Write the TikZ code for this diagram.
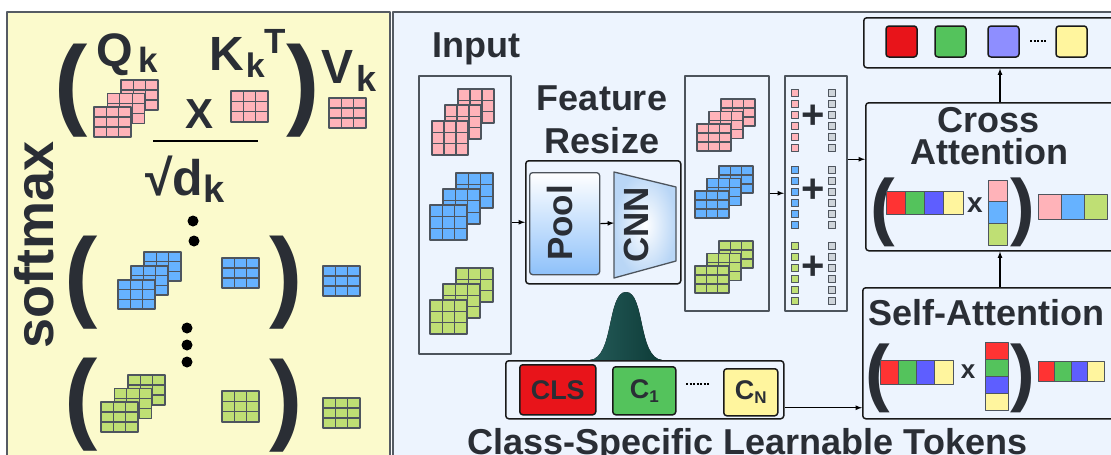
\documentclass[tikz,border=0pt]{standalone}
\usepackage{fontspec}
\setmainfont{Liberation Sans}

\definecolor{ink}{HTML}{2A2E35}
\definecolor{softyellow}{HTML}{FBFACC}
\definecolor{softblue}{HTML}{EDF4FE}
\definecolor{panelline}{HTML}{555B63}
\definecolor{framegray}{HTML}{4D545C}
\definecolor{gridline}{HTML}{4E555E}
\definecolor{featpink}{HTML}{FFB3B9}
\definecolor{featblue}{HTML}{66B2FF}
\definecolor{featgreen}{HTML}{BFDF74}
\definecolor{tokgrey}{HTML}{CED4DA}
\definecolor{tokred}{HTML}{FF3333}
\definecolor{tokgreen}{HTML}{54C35C}
\definecolor{tokblue}{HTML}{5E5EFF}
\definecolor{tokyellow}{HTML}{FFF59E}
\definecolor{clsred}{HTML}{E8141A}
\definecolor{outpurple}{HTML}{8E8EFF}
\definecolor{poolblue}{HTML}{8EC1FA}
\definecolor{cnnblue}{HTML}{B9D6F6}
\definecolor{bellA}{HTML}{245A58}
\definecolor{bellB}{HTML}{0D3B37}

\newcommand{\fsz}[1]{\fontsize{#1}{#1}\selectfont}
\newcommand{\lowsub}[3]{\raisebox{-#1}{\fsz{#2}#3}}

% 3x3 feature map: top left x, y, width, height, fill
\newcommand{\fmap}[5]{%
  \filldraw[fill=#5, draw=gridline, line width=1.3pt] (#1,#2) rectangle ++(#3,#4);
  \foreach \n in {1,2} {
    \draw[gridline, line width=1.1pt] ({#1+\n*#3/3},#2) -- ++(0,#4);
    \draw[gridline, line width=1.1pt] (#1,{#2+\n*#4/3}) -- ++(#3,0);
  }}
% three maps, front one at x, y, the others shifted right and up
\newcommand{\fstack}[7]{%
  \fmap{#1+2*#5}{#2-2*#6}{#3}{#4}{#7}
  \fmap{#1+#5}{#2-#6}{#3}{#4}{#7}
  \fmap{#1}{#2}{#3}{#4}{#7}}
% token cells in a row / in a column
\newcommand{\cellrow}[5]{%
  \foreach \cl [count=\i from 0] in {#5}
    \filldraw[fill=\cl, draw=gridline, line width=1pt] ({#1+\i*#3},#2) rectangle ++(#3,#4);}
\newcommand{\cellcol}[5]{%
  \foreach \cl [count=\i from 0] in {#5}
    \filldraw[fill=\cl, draw=gridline, line width=1pt] (#1,{#2+\i*#4}) rectangle ++(#3,#4);}

\begin{document}
\begin{tikzpicture}[x=1pt, y=-1pt, >=latex, line join=round,
  every node/.style={text=ink},
  frame/.style={draw=framegray, line width=1.5pt, inner sep=0pt},
  blk/.style={draw=black!90, line width=1.5pt, rounded corners=3pt, inner sep=0pt},
  tok/.style={draw=black!90, line width=1.5pt, rounded corners=3pt, inner sep=0pt, font=\fsz{27}\bfseries},
  ttl/.style={font=\fsz{36}\bfseries, inner sep=0pt, anchor=base},
  paren/.style={inner sep=0pt, anchor=base},
  flow/.style={->, line width=1.2pt, black}]
\useasboundingbox (0,0) rectangle (1111,455);
\clip (0,0) rectangle (1111,455);

\draw[line width=1.5pt, draw=panelline, fill=softyellow] (7,12) rectangle (390,470);
\draw[line width=1.5pt, draw=panelline, fill=softblue] (393,12) rectangle (1125,470);

% softmax per class
\node[rotate=90, anchor=base, font=\fsz{54}\bfseries] (smax) at (53,245) {softmax};

\node[paren, font=\fsz{100}\bfseries] (lpq) at (71,116) {(};
\node[paren, font=\fsz{100}\bfseries] (rpq) at (303,116) {)};
\node[anchor=base west, inner sep=0pt, font=\fsz{47}\bfseries] (qk) at (96,66) {Q\hspace{6pt}\lowsub{6pt}{35}{k}};
\node[anchor=base west, inner sep=0pt, font=\fsz{48}\bfseries] (kk) at (209,70) {K\hspace{2pt}\lowsub{7pt}{34}{k}\raisebox{17pt}{\fsz{35}T}};
\node[anchor=base west, inner sep=0pt, font=\fsz{48}\bfseries] (vk) at (321,83) {V\hspace{3pt}\lowsub{8pt}{36}{k}};
\node[anchor=base, inner sep=0pt, font=\fsz{42}\bfseries] (qx) at (200,128) {X};
\draw[line width=1.5pt] (153,141) -- (258,141);
\node[anchor=base west, inner sep=0pt, font=\fsz{50}\bfseries] (dk) at (145,195) {√d\lowsub{7pt}{38}{k}};
\fstack{94}{107}{37}{30}{13.5}{13.5}{featpink}
\fmap{231}{91}{37}{31}{featpink}
\fmap{329}{98}{37}{30}{featpink}

\fill (193,221) circle (5.5) (194,241) circle (5.5);

\node[paren, font=\fsz{100}\bfseries] (lpb) at (81.5,308) {(};
\node[paren, font=\fsz{100}\bfseries] (rpb) at (286.5,308) {)};
\fstack{118}{280}{37}{29}{13}{14}{featblue}
\fmap{222}{258}{37}{30}{featblue}
\fmap{323}{266}{37}{30}{featblue}

\fill (187,328) circle (5.5) (187,345) circle (5.5) (187,362) circle (5.5);

\node[paren, font=\fsz{100}\bfseries] (lpg) at (81.5,430) {(};
\node[paren, font=\fsz{100}\bfseries] (rpg) at (286.5,431) {)};
\fstack{101}{402}{37}{30}{13.5}{13.5}{featgreen}
\fmap{222}{391}{37}{31}{featgreen}
\fmap{323}{398}{37}{30}{featgreen}

% input and resizing
\node[ttl] (intitle) at (476,57) {Input};
\node[frame, anchor=north west, minimum width=92, minimum height=278] (input) at (418,75) {};
\fstack{432}{121}{36}{34}{13}{16}{featpink}
\fstack{430}{205}{37}{35}{13}{16}{featblue}
\fstack{430}{300}{37}{34}{13}{16}{featgreen}

\node[ttl] (rstitle) at (602,110) {Feature};
\node[ttl] (rstitleb) at (602,153) {Resize};
\node[blk, anchor=north west, minimum width=155, minimum height=123] (resize) at (525,160) {};
\node[draw=framegray, line width=1.3pt, rounded corners=3pt, top color=white, bottom color=poolblue,
  anchor=north west, minimum width=70, minimum height=102, inner sep=0pt] (pool) at (529,172) {};
\node[rotate=90, anchor=base, font=\fsz{35}\bfseries] (poolt) at (572,223) {Pool};
\path[draw=framegray, line width=1.3pt, inner color=white, outer color=cnnblue]
  (614,172) -- (676,187) -- (676,261) -- (614,278) -- cycle;
\coordinate (cnnin) at (614,223);
\node[rotate=90, anchor=base, font=\fsz{35}\bfseries] (cnnt) at (648,225) {CNN};

\draw[flow] (input.east |- resize.west) -- (resize.west);
\draw[flow] (pool.east) -- (cnnin);

% resized maps and token sums
\node[frame, anchor=north west, minimum width=84, minimum height=235] (feats) at (684,75) {};
\fstack{697}{124}{34}{27}{12}{12.5}{featpink}
\fstack{695}{191}{34}{27}{12}{12.5}{featblue}
\fstack{695}{266}{34}{27}{12}{12.5}{featgreen}

\node[frame, anchor=north west, minimum width=62, minimum height=235] (sums) at (784,75) {};
\foreach \y/\cl in {89/featpink, 166/featblue, 242/featgreen}
  \foreach \i in {0,...,5} {
    \filldraw[fill=\cl, draw=gridline, line width=1pt] (791,\y+11*\i) rectangle ++(7.5,7.5);
    \filldraw[fill=tokgrey, draw=gridline, line width=1pt] (828,\y+11*\i) rectangle ++(7.5,7.5);
  }
\node[font=\fsz{40}\bfseries, inner sep=0pt] (plusa) at (813,117) {+};
\node[font=\fsz{40}\bfseries, inner sep=0pt] (plusb) at (813,191) {+};
\node[font=\fsz{40}\bfseries, inner sep=0pt] (plusc) at (813,268) {+};

\draw[flow] (feats.east) -- (sums.west);

% class tokens
\fill[left color=bellA, right color=bellB] (590,360) .. controls (614,358) and (607,292) .. (626,292)
  .. controls (645,292) and (638,358) .. (662,360) -- cycle;
\node[blk, anchor=north west, minimum width=278, minimum height=58] (tokens) at (505,360) {};
\node[tok, fill=clsred, anchor=north west, minimum width=76, minimum height=50] (cls) at (519,364) {CLS};
\node[tok, fill=tokgreen, anchor=north west, minimum width=63, minimum height=48] (ca) at (612,366) {C\lowsub{4pt}{17}{1}};
\node[tok, fill=tokyellow, anchor=north west, minimum width=54, minimum height=47] (cn) at (723,368) {C\lowsub{4pt}{17}{N}};
\draw[dash pattern=on 2pt off 1.5pt, line width=2.2pt] (686,384) -- (710,384);
\node[ttl] (toktitle) at (747.5,454) {Class-Specific Learnable Tokens};

% attention blocks
\node[blk, anchor=north west, minimum width=260, minimum height=50] (out) at (863,17) {};
\foreach \x/\cl in {886/clsred, 935/tokgreen, 988/outpurple, 1056/tokyellow}
  \filldraw[fill=\cl, draw=black!90, line width=1.5pt, rounded corners=3pt] (\x,26) rectangle ++(31,31);
\draw[dash pattern=on 2pt off 1.5pt, line width=2.2pt] (1030,41) -- (1047,41);

\node[blk, anchor=north west, minimum width=260, minimum height=148] (cross) at (865,102) {};
\node[ttl] (crtitle) at (988.5,132) {Cross};
\node[ttl] (crtitleb) at (989,164) {Attention};
\node[paren, font=\fsz{74}\bfseries] (lpc) at (882.5,231) {(};
\node[paren, font=\fsz{74}\bfseries] (rpc) at (1022.5,231) {)};
\cellrow{886}{191}{19.25}{23}{tokred,tokgreen,tokblue,tokyellow}
\node[anchor=base, inner sep=0pt, font=\fsz{28}\bfseries] (cx) at (975,212) {x};
\cellcol{988}{180}{19}{21.7}{featpink,featblue,featgreen}
\cellrow{1038}{194}{23}{25}{featpink,featblue,featgreen}

\node[blk, anchor=north west, minimum width=260, minimum height=131] (self) at (862,287) {};
\node[ttl] (sftitle) at (986,325) {Self-Attention};
\node[paren, font=\fsz{74}\bfseries] (lps) at (878,397) {(};
\node[paren, font=\fsz{74}\bfseries] (rps) at (1022.5,397) {)};
\cellrow{880}{360}{18.25}{24}{tokred,tokgreen,tokblue,tokyellow}
\node[anchor=base, inner sep=0pt, font=\fsz{26}\bfseries] (sx) at (968,378) {x};
\cellcol{985}{342}{23}{17}{tokred,tokgreen,tokblue,tokyellow}
\cellrow{1038}{361}{16.5}{20}{tokred,tokgreen,tokblue,tokyellow}

\coordinate (riser) at (1000,0);
\draw[flow] ([yshift=34pt]sums.east) -- ([yshift=34pt]sums.east -| cross.west);
\draw[flow] (cross.north -| riser) -- (out.south -| riser);
\draw[flow] (self.north -| riser) -- (cross.south -| riser);
\draw[flow] ([yshift=-18pt]tokens.east) -- ([yshift=-18pt]tokens.east -| self.west);
\end{tikzpicture}
\end{document}
